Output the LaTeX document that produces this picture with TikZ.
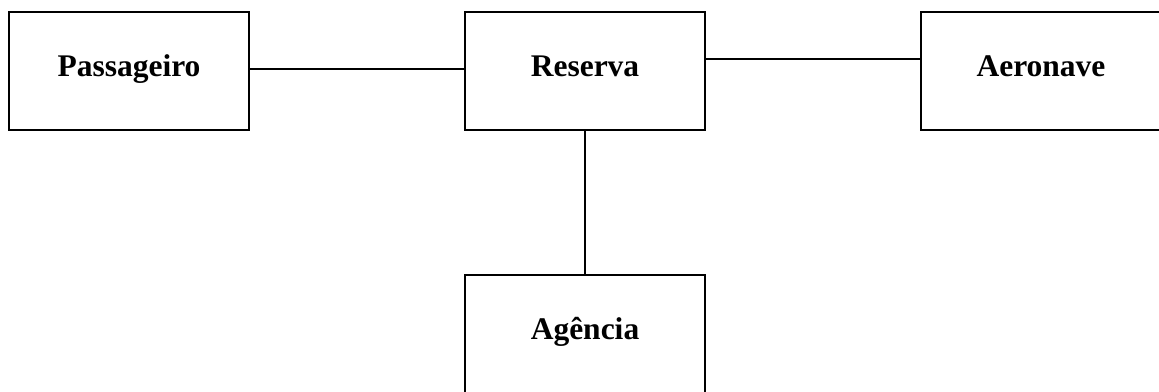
\documentclass[tikz,border=0pt]{standalone}
\usepackage{fontspec}
\setmainfont{Liberation Serif}
\usetikzlibrary{calc}

\begin{document}
\begin{tikzpicture}[x=1pt, y=-1pt]
	% Stili
	\tikzset{entita/.style = {draw, line width = 1.6pt, rectangle, minimum width = 240pt, minimum height = 118pt, inner sep = 0pt, text height = 20pt, text depth = 9pt, font = \fontsize{31.5}{38}\selectfont\bfseries}}
	\useasboundingbox (0,0) rectangle (1159,391);
	% Entita
	\node[entita] (pas) at (129,71) {Passageiro};
	\node[entita] (res) at (585,71) {Reserva};
	\node[entita] (aer) at (1041,71) {Aeronave};
	\node[entita] (age) at (585,334) {Agência};
	% Collegamenti
	\draw[line width = 1.6pt] ([yshift = 2pt]pas.east) -- ([yshift = 2pt]pas.east -| res.west);
	\draw[line width = 1.6pt] ([yshift = 12pt]res.east) -- ([yshift = 12pt]res.east -| aer.west);
	\draw[line width = 1.6pt] (res.south) -- (age.north);
\end{tikzpicture}
\end{document}
